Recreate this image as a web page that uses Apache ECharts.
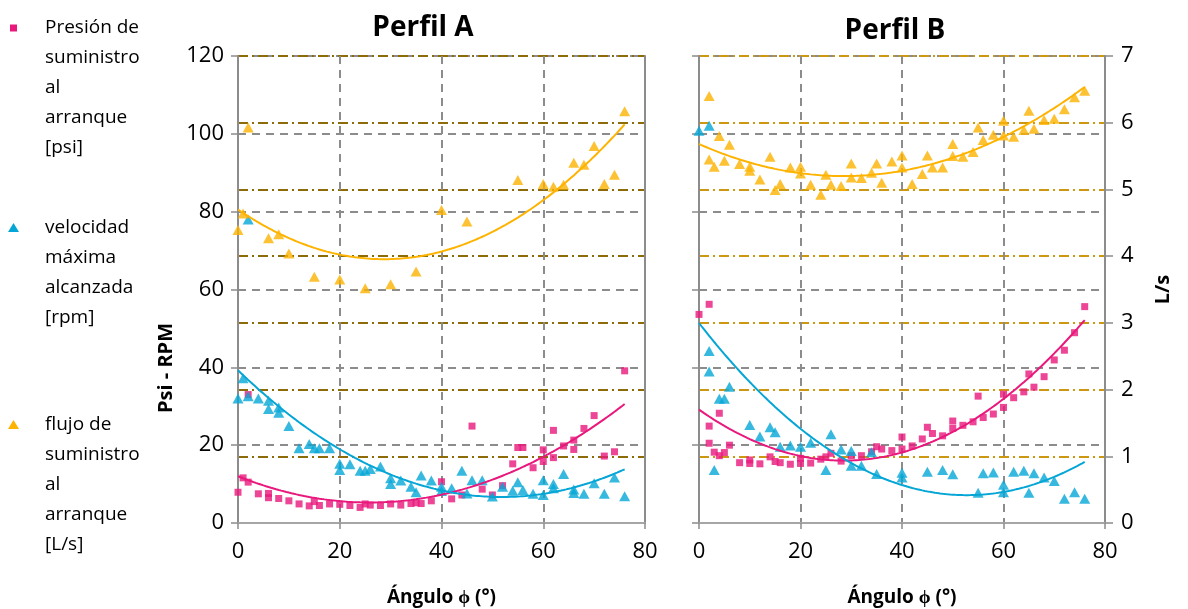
<!DOCTYPE html>
<html>
<head>
<meta charset="utf-8">
<script src="https://cdn.jsdelivr.net/npm/echarts@6/dist/echarts.min.js"></script>
<style>
  html, body { margin: 0; padding: 0; background: #fff; }
  #chart { width: 1188px; height: 609px; }
</style>
</head>
<body>
<div id="chart"></div>
<script>
// ---- Perfil A ----
const presionA_x = [0,1,2,2,4,6,6,8,10,12,14,15,16,18,20,22,24,25,26,28,30,32,34,35,36,38,40,42,44,46,48,50,52,54,55,56,58,60,60,62,62,64,66,66,68,70,72,74,76];
const presionA   = [7.9,11.6,10.5,33.0,7.5,7.6,6.5,6.3,5.7,4.9,4.4,5.5,4.5,4.9,4.8,4.5,4.0,4.9,4.6,4.5,4.9,4.6,5.0,5.2,5.0,5.7,10.6,6.2,7.2,24.9,8.7,7.2,9.6,15.2,19.4,19.4,14.2,18.8,15.8,23.8,16.8,19.8,21.3,18.9,24.3,27.6,17.2,18.3,39.1];

const velocidadA_x = [0,1,2,2,4,6,6,8,8,10,12,14,15,16,18,20,20,22,24,25,26,28,30,30,32,34,35,36,38,40,40,42,44,45,46,48,50,52,54,55,56,58,60,60,62,62,64,66,66,68,70,72,74,76];
const velocidadA   = [32.0,37.2,78,32.6,32.0,31.4,29.3,29.7,28.3,24.9,19.2,20.3,19.2,19.2,19.2,15.2,13.6,15.1,13.4,13.4,13.9,14.5,11.5,10.0,10.9,9.3,7.9,12.2,10.9,9.3,8.2,8.9,13.4,7.6,11.0,11.0,6.8,9.3,8.3,10.5,8.5,7.5,11.0,7.2,10.0,8.9,12.6,8.6,7.7,7.5,10.2,7.5,11.7,6.9];

const flujoA_x = [0,1,2,6,8,10,15,20,25,30,35,40,45,55,60,62,64,66,68,70,72,74,76];
const flujoA   = [4.39,4.64,5.93,4.27,4.33,4.04,3.69,3.65,3.52,3.58,3.77,4.69,4.52,5.14,5.08,5.04,5.07,5.40,5.37,5.65,5.08,5.22,6.17];

// ---- Perfil B ----
const presionB_x = [0,2,2,2,3,4,4,5,6,8,10,10,12,14,15,16,18,20,20,22,24,25,26,28,30,32,34,35,36,38,40,40,42,44,45,46,48,50,50,52,54,55,56,58,60,60,62,64,65,66,68,70,72,74,76];
const presionB   = [53.6,56.2,24.9,20.5,18.2,28.2,17.3,18.1,20.0,15.5,16.2,15.3,15.2,17.0,15.8,15.5,15.1,16.6,15.3,15.4,16.4,17.0,17.9,15.9,17.3,17.3,18.3,19.6,19.0,18.6,22.1,19.0,19.8,21.6,24.6,23.0,22.4,26.2,24.3,25.1,26.0,32.6,27.1,28.0,33.1,29.7,32.2,33.7,38.3,34.9,37.6,41.9,44.4,48.9,55.6];

const velocidadB_x = [0,2,2,2,3,4,5,6,10,12,14,15,16,18,20,22,25,26,28,30,30,32,34,35,40,40,45,48,50,55,56,58,60,60,62,64,65,66,68,70,72,74,76];
const velocidadB   = [100.8,102.1,44.2,38.9,13.6,31.9,31.9,35.0,25.2,22.2,24.6,23.3,19.6,19.9,19.6,20.6,13.6,22.8,18.9,18.5,14.7,14.7,18.2,12.6,12.9,11.7,13.2,13.6,12.5,7.8,12.8,13.0,9.8,7.9,13.2,13.4,7.8,12.8,11.7,10.8,6.2,7.9,6.2];

const flujoB_x = [2,4,2,3,5,6,8,10,10,12,14,15,16,18,20,20,22,24,25,26,28,30,30,32,34,35,36,38,40,40,42,44,45,46,48,50,50,52,54,55,56,58,60,60,62,64,65,66,68,70,72,74,76];
const flujoB   = [6.40,5.80,5.45,5.34,5.43,5.67,5.38,5.34,5.28,5.15,5.49,4.99,5.08,5.33,5.34,5.24,5.07,4.92,5.22,5.07,5.05,5.39,5.18,5.17,5.25,5.39,5.10,5.42,5.51,5.33,5.08,5.23,5.51,5.33,5.33,5.68,5.50,5.49,5.56,5.93,5.74,5.82,6.03,5.81,5.79,5.89,6.18,5.91,6.04,6.06,6.20,6.38,6.48];

// ---- Axis ticks / labels ----
const titles = ['Perfil A', 'Perfil B'];
const angleTicks = { min: 0, max: 80, interval: 20 };
const psiTicks = { min: 0, max: 120, interval: 20 };
const flowTicks = { min: 0, max: 7, interval: 1 };
const legendNames = [
  'Presión de\nsuministro\nal\narranque\n[psi]',
  'velocidad\nmáxima\nalcanzada\n[rpm]',
  'flujo de\nsuministro\nal\narranque\n[L/s]'
];

const MAGENTA = '#e8187c';
const CYAN = '#05a6d6';
const YELLOW = '#fdb300';
const GRID_GRAY = '#8c8c8c';
const FONT = 'Open Sans';

// Second-order least-squares trendline evaluated across the angle range
function quadTrend(xs, ys, x0, x1) {
  let n = xs.length, s1 = 0, s2 = 0, s3 = 0, s4 = 0, t0 = 0, t1 = 0, t2 = 0;
  for (let i = 0; i < n; i++) {
    const x = xs[i], y = ys[i];
    s1 += x; s2 += x * x; s3 += x * x * x; s4 += x * x * x * x;
    t0 += y; t1 += x * y; t2 += x * x * y;
  }
  const M = [[n, s1, s2, t0], [s1, s2, s3, t1], [s2, s3, s4, t2]];
  for (let c = 0; c < 3; c++) {
    for (let r = c + 1; r < 3; r++) {
      const f = M[r][c] / M[c][c];
      for (let k = c; k < 4; k++) M[r][k] -= f * M[c][k];
    }
  }
  const coef = [0, 0, 0];
  for (let r = 2; r >= 0; r--) {
    let s = M[r][3];
    for (let k = r + 1; k < 3; k++) s -= M[r][k] * coef[k];
    coef[r] = s / M[r][r];
  }
  const out = [];
  for (let x = x0; x <= x1 + 1e-9; x += 0.5) out.push([x, coef[0] + coef[1] * x + coef[2] * x * x]);
  return out;
}

const pairs = (xs, ys) => xs.map((x, i) => [x, ys[i]]);

function xAxisCfg(gridIndex) {
  return {
    type: 'value', gridIndex, ...angleTicks,
    name: 'Ángulo ϕ (°)', nameLocation: 'middle', nameGap: 65,
    nameTextStyle: { fontFamily: FONT, fontSize: 19, fontWeight: 'bold', color: '#000' },
    axisLine: { show: true, lineStyle: { color: '#a6a6a6', width: 2 } },
    axisTick: { show: true, length: 6, lineStyle: { color: GRID_GRAY, width: 1.5 } },
    axisLabel: { fontFamily: FONT, fontSize: 22, color: '#000', margin: 18 },
    splitLine: { show: true, lineStyle: { color: GRID_GRAY, width: 2, type: [8, 6] } }
  };
}

function psiAxisCfg(gridIndex, showLabels) {
  return {
    type: 'value', gridIndex, position: 'left', ...psiTicks,
    axisLine: { show: true, onZero: false, lineStyle: { color: GRID_GRAY, width: 2 } },
    axisTick: { show: true, length: 7, lineStyle: { color: GRID_GRAY, width: 1.5 } },
    axisLabel: { show: showLabels, fontFamily: FONT, fontSize: 22, color: '#000', margin: 14 },
    splitLine: { show: true, lineStyle: { color: GRID_GRAY, width: 2, type: [8, 6] } }
  };
}

function flowAxisCfg(gridIndex, showLabels, dashColor) {
  const cfg = {
    type: 'value', gridIndex, position: 'right', ...flowTicks,
    axisLine: { show: true, onZero: false, lineStyle: { color: GRID_GRAY, width: 2 } },
    axisTick: { show: showLabels, length: 8, lineStyle: { color: GRID_GRAY, width: 1.5 } },
    axisLabel: { show: showLabels, fontFamily: FONT, fontSize: 22, color: '#000', margin: 16 },
    splitLine: { show: true, lineStyle: { color: dashColor, width: 2, type: [10, 4, 2, 4] } }
  };
  if (showLabels) {
    cfg.name = 'L/s';
    cfg.nameLocation = 'middle';
    cfg.nameRotate = 90;
    cfg.nameGap = 48;
    cfg.nameTextStyle = { fontFamily: FONT, fontSize: 20, fontWeight: 'bold', color: '#000' };
  }
  return cfg;
}

function panelSeries(xi, yPsi, yFlow, pres, vel, flu) {
  const pts = [
    { name: legendNames[0], data: pairs(pres[0], pres[1]), color: MAGENTA, symbol: 'rect', size: [7, 7], y: yPsi },
    { name: legendNames[1], data: pairs(vel[0], vel[1]), color: CYAN, symbol: 'triangle', size: [11, 10], y: yPsi },
    { name: legendNames[2], data: pairs(flu[0], flu[1]), color: YELLOW, symbol: 'triangle', size: [11, 10], y: yFlow }
  ];
  const trends = [
    { data: quadTrend(pres[0], pres[1], 0, 76), color: MAGENTA, y: yPsi },
    { data: quadTrend(vel[0], vel[1], 0, 76), color: CYAN, y: yPsi },
    { data: quadTrend(flu[0], flu[1], 0, 76), color: YELLOW, y: yFlow }
  ];
  const list = pts.map(p => ({
    type: 'scatter', name: p.name, xAxisIndex: xi, yAxisIndex: p.y,
    data: p.data, symbol: p.symbol, symbolSize: p.size,
    itemStyle: { color: p.color }, z: 3, silent: true
  }));
  trends.forEach(t => list.push({
    type: 'line', xAxisIndex: xi, yAxisIndex: t.y, data: t.data,
    showSymbol: false, smooth: false, lineStyle: { color: t.color, width: 2 }, z: 4, silent: true
  }));
  return list;
}

// Legend block drawn on the left margin: marker + multi-line label
function legendGraphic() {
  const items = [
    { y: 28, color: MAGENTA, kind: 'rect' },
    { y: 228, color: CYAN, kind: 'tri' },
    { y: 425, color: YELLOW, kind: 'tri' }
  ];
  const els = [];
  items.forEach((it, i) => {
    if (it.kind === 'rect') {
      els.push({ type: 'rect', shape: { x: 10, y: it.y - 3.5, width: 7, height: 7 }, style: { fill: it.color } });
    } else {
      els.push({ type: 'polygon', shape: { points: [[13.5, it.y - 5], [19, it.y + 4], [8, it.y + 4]] }, style: { fill: it.color } });
    }
    els.push({
      type: 'text', x: 45, y: it.y - 15,
      style: { text: legendNames[i], fontFamily: FONT, fontSize: 19, lineHeight: 30, fill: '#000', align: 'left', verticalAlign: 'top' }
    });
  });
  els.push({
    type: 'text', x: 166, y: 368, rotation: Math.PI / 2,
    style: { text: 'Psi - RPM', fontFamily: FONT, fontSize: 20, fontWeight: 'bold', fill: '#000', align: 'center', verticalAlign: 'middle' }
  });
  return els;
}

const chart = echarts.init(document.getElementById('chart'), null, { renderer: 'canvas' });
chart.setOption({
  backgroundColor: '#fff',
  animation: false,
  title: [
    { text: titles[0], left: 418, top: 9, textAlign: 'center', textStyle: { fontFamily: FONT, fontSize: 28, fontWeight: 'bold', color: '#000' } },
    { text: titles[1], left: 890, top: 12, textAlign: 'center', textStyle: { fontFamily: FONT, fontSize: 28, fontWeight: 'bold', color: '#000' } }
  ],
  grid: [
    { left: 238, top: 56, width: 407, height: 467, outerBoundsMode: 'none', containLabel: false },
    { left: 699, top: 56, width: 406, height: 467, outerBoundsMode: 'none', containLabel: false }
  ],
  xAxis: [xAxisCfg(0), xAxisCfg(1)],
  yAxis: [
    psiAxisCfg(0, true),
    flowAxisCfg(0, false, '#8c6b08'),
    psiAxisCfg(1, false),
    flowAxisCfg(1, true, '#cc9812')
  ],
  graphic: legendGraphic(),
  series: [
    ...panelSeries(0, 0, 1, [presionA_x, presionA], [velocidadA_x, velocidadA], [flujoA_x, flujoA]),
    ...panelSeries(1, 2, 3, [presionB_x, presionB], [velocidadB_x, velocidadB], [flujoB_x, flujoB])
  ]
});
</script>
</body>
</html>
